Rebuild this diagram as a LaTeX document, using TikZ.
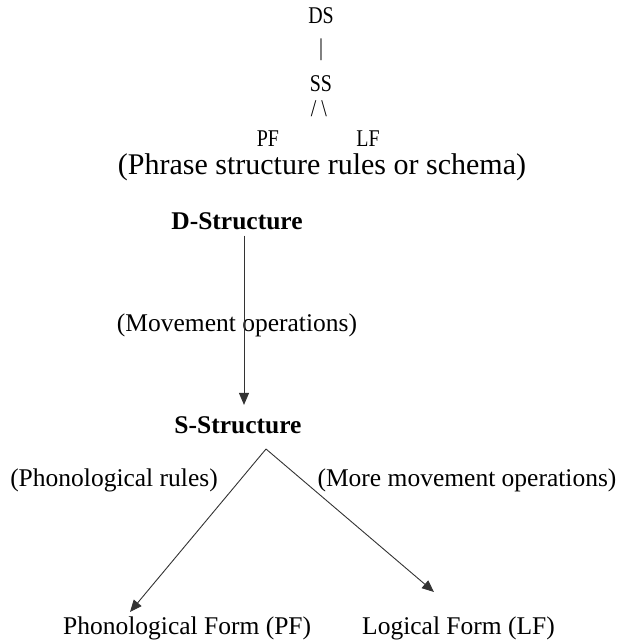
\documentclass[tikz,border=0pt]{standalone}
\usepackage{fontspec}
\setmainfont{Liberation Serif}
\newfontfamily\narrowserif[FakeStretch=0.83]{Liberation Serif}
\usetikzlibrary{arrows.meta}

\begin{document}
\begin{tikzpicture}[x=1pt, y=-1pt, lbl/.style={inner sep=0pt, anchor=base, font=\fontsize{25.5}{30}\selectfont}, tre/.style={inner sep=0pt, anchor=base, font=\narrowserif\fontsize{24}{28}\selectfont}, bld/.style={lbl, font=\fontsize{25.5}{30}\selectfont\bfseries}, arr/.style={draw=black!80, line width=0.9pt, -{Triangle[length=12pt, width=10pt]}}]
\useasboundingbox (0,0) rectangle (620,641);
% small tree
\foreach \n/\x/\y/\t in {ds/321/23/DS, ss/321/91/SS, pf/268/146/PF, lf/368/146/LF}{\node[tre] (\n) at (\x,\y){\t};}
\node[tre, anchor=center] (bar) at (321,50){|};
\node[tre, anchor=center] (sl) at (319,109){/ \textbackslash};
\node[lbl, font=\fontsize{30}{36}\selectfont] (schema) at (322,174){(Phrase structure rules or schema)};
% derivation
\node[bld] (dstr) at (237,229){D-Structure};
\node[bld] (sstr) at (238,433){S-Structure};
\node[lbl] (move) at (237,331){(Movement operations)};
\node[lbl] (phon) at (114,486){(Phonological rules)};
\node[lbl] (more) at (467,486){(More movement operations)};
\node[lbl, anchor=base west] (pform) at (63,634){Phonological Form (PF)};
\node[lbl, anchor=base west] (lform) at (362,634){Logical Form (LF)};
\coordinate (split) at (266,449);
\coordinate (pftip) at (130,612);
\coordinate (lftip) at (434,592);
\draw[arr] ([xshift=7pt, yshift=-6pt]dstr.south) -- ([xshift=6pt, yshift=11pt]sstr.north);
\draw[arr] (split) -- (pftip);
\draw[arr] (split) -- (lftip);
\end{tikzpicture}
\end{document}
